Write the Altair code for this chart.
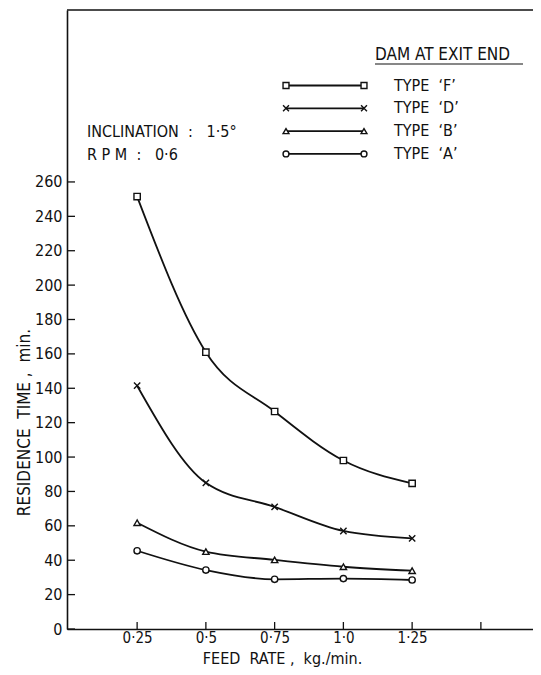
import altair as alt
import pandas as pd

# ---- data ----
feed_rate = [0.25, 0.5, 0.75, 1.0, 1.25]
type_f = [251.5, 161, 126.5, 98, 84.7]
type_d = [141.5, 85, 71, 57, 52.7]
type_b = [61.8, 45, 40.2, 36.2, 33.9]
type_a = [45.5, 34.3, 28.9, 29.3, 28.5]
NB = "\u00a0"
series_names = [f"TYPE{NB}{NB}‘F’", f"TYPE{NB}{NB}‘D’", f"TYPE{NB}{NB}‘B’", f"TYPE{NB}{NB}‘A’"]
y_ticks = list(range(0, 261, 20))
x_ticks = [0.25, 0.5, 0.75, 1.0, 1.25, 1.5]
x_label_values = [0.25, 0.5, 0.75, 1.0, 1.25]
x_label_texts = ["0·25", "0·5", "0·75", "1·0", "1·25"]

FONT = "DejaVu Sans Condensed"
FS = 16
INK = "#111111"
W, H = 466, 619

cross_path = "M-1,-1L1,1M-1,1L1,-1"
shapes = ["square", cross_path, "triangle-up", "circle"]

rows = []
for name, vals in zip(series_names, [type_f, type_d, type_b, type_a]):
    for x, y in zip(feed_rate, vals):
        rows.append({"series": name, "feed": x, "rt": y})
df = pd.DataFrame(rows)

xs = alt.Scale(domain=[-0.005, 1.6895], nice=False, zero=False)
ys = alt.Scale(domain=[0, 360], nice=False, zero=True)

label_expr = " : ".join(
    f"datum.value == {v} ? '{t}'" for v, t in zip(x_label_values, x_label_texts)
) + " : ''"

x_axis = alt.Axis(
    values=x_label_values, labelExpr=label_expr, ticks=False, grid=False,
    title=f"FEED{NB}{NB}RATE{NB},{NB}{NB}kg./min.", titleX=215, titleY=29,
    titleBaseline="middle", titleAlign="center", labelPadding=1,
    titleFontSize=16, labelFontSize=15,
)
y_axis = alt.Axis(
    values=y_ticks, ticks=False, grid=False, labelPadding=5,
    title=f"RESIDENCE{NB}{NB}TIME{NB},{NB}{NB}min.", titleX=-43, titleY=412,
    titleAngle=-90, titleBaseline="middle", titleAlign="center",
    titleFontSize=17,
)
shape_enc = alt.Shape(
    "series:N", scale=alt.Scale(domain=series_names, range=shapes), legend=None
)

lines = alt.Chart(df).mark_line(
    interpolate="monotone", color=INK, strokeWidth=1.8
).encode(
    x=alt.X("feed:Q", scale=xs, axis=x_axis),
    y=alt.Y("rt:Q", scale=ys, axis=y_axis),
    detail="series:N",
)

points = alt.Chart(df).mark_point(
    filled=True, fill="white", stroke=INK, strokeWidth=1.4, size=40, opacity=1
).encode(
    x=alt.X("feed:Q", scale=xs, axis=x_axis),
    y=alt.Y("rt:Q", scale=ys, axis=y_axis),
    shape=shape_enc,
)

ytick_df = pd.DataFrame({"rt": y_ticks})
xtick_df = pd.DataFrame({"feed": x_ticks})
yticks = alt.Chart(ytick_df).mark_rule(color=INK, strokeWidth=1.3).encode(
    y=alt.Y("rt:Q", scale=ys, axis=y_axis), x=alt.value(0), x2=alt.value(8)
)
xticks = alt.Chart(xtick_df).mark_rule(color=INK, strokeWidth=1.3).encode(
    x=alt.X("feed:Q", scale=xs, axis=x_axis), y=alt.value(H), y2=alt.value(H - 7)
)

one = pd.DataFrame({"k": [0]})
top_rule = alt.Chart(one).mark_rule(color=INK, strokeWidth=1.5).encode(
    x=alt.value(0), x2=alt.value(W), y=alt.value(0)
)

layers = [lines, points, yticks, xticks, top_rule]


def txt(x, y, s, size=FS):
    return alt.Chart(one).mark_text(
        font=FONT, fontSize=size, align="left", baseline="middle", color=INK
    ).encode(x=alt.value(x), y=alt.value(y), text=alt.value(s))


# annotation text
layers.append(txt(20, 122, f"INCLINATION{NB}{NB}:{NB}{NB}{NB}1·5°"))
layers.append(txt(20, 145, f"R{NB}P{NB}M{NB}{NB}:{NB}{NB}{NB}0·6"))

# legend header
layers.append(txt(308, 45, f"DAM{NB}AT{NB}EXIT{NB}END", 17))
layers.append(alt.Chart(one).mark_rule(color=INK, strokeWidth=1.2).encode(
    x=alt.value(308), x2=alt.value(456), y=alt.value(54)
))

for i, (name, shp) in enumerate(zip(series_names, shapes)):
    yy = 75.5 + 22.8 * i
    layers.append(alt.Chart(one).mark_rule(color=INK, strokeWidth=1.8).encode(
        x=alt.value(219), x2=alt.value(297), y=alt.value(yy)
    ))
    for xx in (219, 297):
        layers.append(alt.Chart(one).mark_point(
            filled=True, fill="white", stroke=INK, strokeWidth=1.4, size=35, opacity=1
        ).encode(x=alt.value(xx), y=alt.value(yy), shape=alt.value(shp)))
    layers.append(txt(327, yy, name))

chart = alt.layer(*layers).properties(
    width=W, height=H,
    autosize=alt.AutoSizeParams(type="none"),
    padding={"left": 59, "top": 2, "right": 0, "bottom": 38},
).configure_view(stroke=None).configure_axis(
    domainColor=INK, domainWidth=1.6, labelColor=INK, titleColor=INK,
    labelFont=FONT, titleFont=FONT, labelFontSize=FS, titleFontSize=FS,
    titleFontWeight="normal",
)

chart.save("out.html", embed_options={"renderer": "svg", "actions": False})
